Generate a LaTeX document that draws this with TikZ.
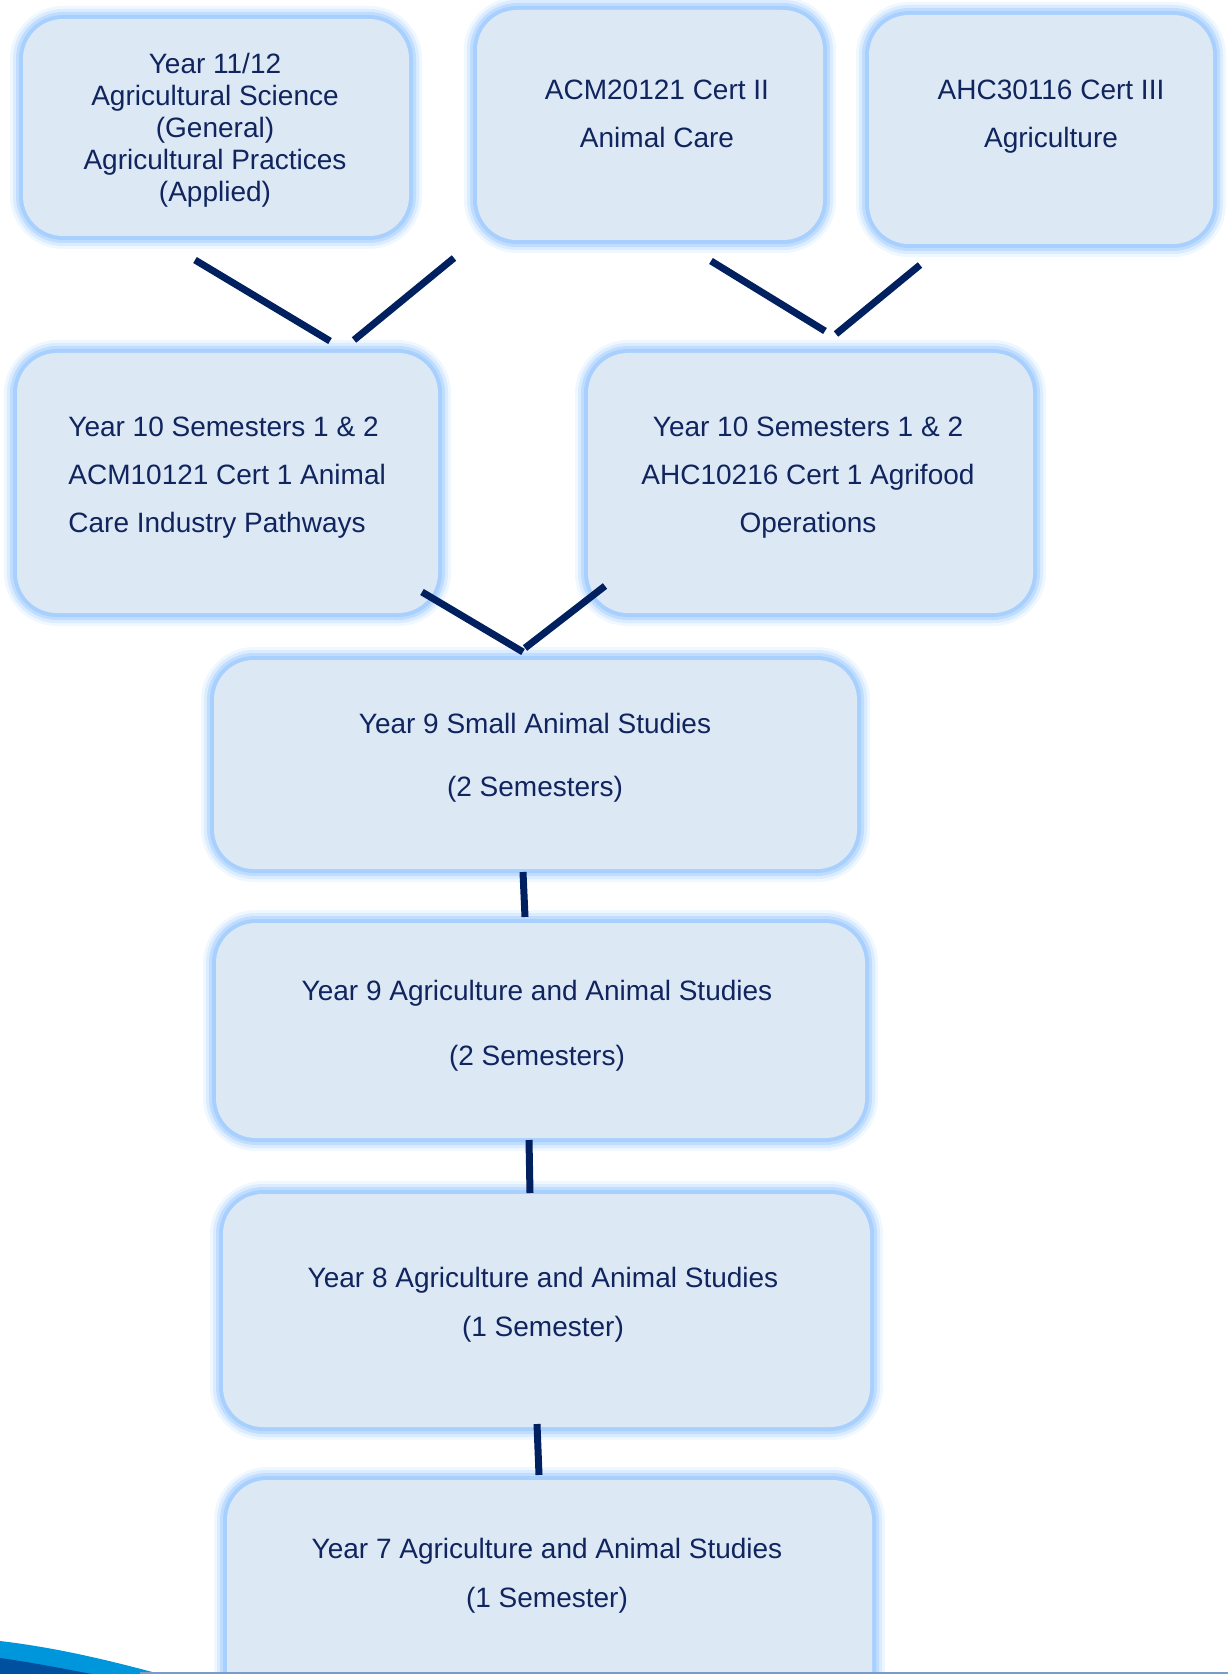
\documentclass[tikz,border=0pt]{standalone}
\usepackage{fontspec}
\setmainfont{Liberation Sans}
\definecolor{boxfill}{RGB}{221,232,245}
\definecolor{glowblue}{RGB}{168,208,255}
\definecolor{linknavy}{RGB}{0,32,96}
\definecolor{txtnavy}{RGB}{16,36,94}
\definecolor{swooshlight}{RGB}{0,150,220}
\definecolor{swooshdark}{RGB}{0,80,160}

\begin{document}
\begin{tikzpicture}[x=0.5pt,y=-0.5pt,
  box/.style={inner sep=0pt,fill=boxfill,rounded corners=20pt,
    preaction={draw=glowblue!18,line width=13pt},
    preaction={draw=glowblue!40,line width=10pt},
    preaction={draw=glowblue!72,line width=7pt},
    preaction={draw=glowblue,line width=4pt}},
  txt/.style={inner sep=0pt,text=txtnavy,align=center,font=\fontsize{14}{24}\selectfont},
  link/.style={draw=linknavy,line width=3.5pt}]
  \clip (0,0) rectangle (1228,1674);

  % 顶层
  \node[box,minimum width=193pt,minimum height=108.5pt] (y12) at (216,127.5) {};
  \node[box,minimum width=173pt,minimum height=115pt] (cert2) at (650,125) {};
  \node[box,minimum width=172pt,minimum height=114.5pt] (cert3) at (1041,129.5) {};
  \node[txt,font=\fontsize{14}{16}\selectfont] (y12-t) at (215,130)
    {Year 11/12\\Agricultural Science\\(General)\\Agricultural Practices\\(Applied)};
  \node[txt] (cert2-t) at (657,114) {ACM20121 Cert II\\Animal Care};
  \node[txt] (cert3-t) at (1051,117) {AHC30116 Cert III\\Agriculture};

  % 十年级
  \node[box,minimum width=210.5pt,minimum height=130pt] (y10a) at (227.5,483) {};
  \node[box,minimum width=222.5pt,minimum height=130pt] (y10b) at (810.5,483) {};
  \node[txt,align=left,anchor=west] (y10a-t) at (68,478)
    {Year 10 Semesters 1 \& 2\\ACM10121 Cert 1 Animal\\Care Industry Pathways};
  \node[txt] (y10b-t) at (808,478)
    {Year 10 Semesters 1 \& 2\\AHC10216 Cert 1 Agrifood\\Operations};

  % 九年级到七年级
  \node[box,minimum width=321.5pt,minimum height=104.5pt] (y9a) at (535.5,764.5) {};
  \node[box,minimum width=324.5pt,minimum height=107.5pt] (y9b) at (540.5,1030.5) {};
  \node[box,minimum width=323.5pt,minimum height=116.5pt] (y8) at (546.5,1310.5) {};
  \node[box,minimum width=322.5pt,minimum height=120pt] (y7) at (549.5,1600) {};
  \node[txt,font=\fontsize{14}{31.5}\selectfont] (y9a-t) at (535,757.5)
    {Year 9 Small Animal Studies\\(2 Semesters)};
  \node[txt,font=\fontsize{14}{32.5}\selectfont] (y9b-t) at (537,1025.5)
    {Year 9 Agriculture and Animal Studies\\(2 Semesters)};
  \node[txt,font=\fontsize{14}{24.5}\selectfont] (y8-t) at (543,1304.5)
    {Year 8 Agriculture and Animal Studies\\(1 Semester)};
  \node[txt,font=\fontsize{14}{24.5}\selectfont] (y7-t) at (547,1575.5)
    {Year 7 Agriculture and Animal Studies\\(1 Semester)};

  % 连线端点
  \coordinate (v1a) at (195,260);  \coordinate (v1b) at (330,341);
  \coordinate (v1c) at (454,258);  \coordinate (v1d) at (354,340);
  \coordinate (v2a) at (711,261);  \coordinate (v2b) at (825,331);
  \coordinate (v2c) at (920,265);  \coordinate (v2d) at (836,334);
  \coordinate (v3a) at (422,592);  \coordinate (v3b) at (523,652);
  \coordinate (v3c) at (605,586);  \coordinate (v3d) at (525,648);
  \coordinate (s1a) at (523,872);  \coordinate (s1b) at (525,917);
  \coordinate (s2a) at (529,1140); \coordinate (s2b) at (530,1193);
  \coordinate (s3a) at (537,1424); \coordinate (s3b) at (539,1475);

  \draw[link] (v1a) -- (v1b);
  \draw[link] (v1c) -- (v1d);
  \draw[link] (v2a) -- (v2b);
  \draw[link] (v2c) -- (v2d);
  \draw[link] (v3a) -- (v3b);
  \draw[link] (v3c) -- (v3d);
  \draw[link] (s1a) -- (s1b);
  \draw[link] (s2a) -- (s2b);
  \draw[link] (s3a) -- (s3b);

  % 底边
  \fill[swooshlight] (0,1641) .. controls (60,1648) and (115,1662) .. (160,1674) -- (0,1674) -- cycle;
  \fill[swooshdark] (0,1658) .. controls (30,1662) and (65,1669) .. (92,1674) -- (0,1674) -- cycle;
  \draw[draw={rgb,255:red,120;green,155;blue,200},line width=1pt] (140,1673) -- (1228,1673);
\end{tikzpicture}
\end{document}
